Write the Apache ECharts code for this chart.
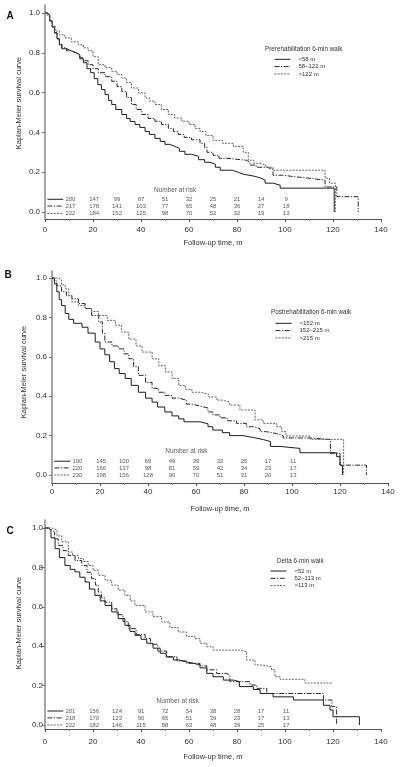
<!DOCTYPE html>
<html><head><meta charset="utf-8">
<script src="https://cdn.jsdelivr.net/npm/echarts@6/dist/echarts.min.js"></script>
<style>html,body{margin:0;padding:0;background:#fff}#c{width:400px;height:767px}</style>
</head><body><div id="c"></div><script>
// ---------- data ----------
const yTickValues = [0, 0.2, 0.4, 0.6, 0.8, 1.0];
const xTickInterval = 20;
const panelLetters = ['A', 'B', 'C'];
const legendTitles = ['Prerehabilitation 6-min walk', 'Postrehabilitation 6-min walk', 'Delta 6-min walk'];
const groupsA = ['<58 m', '58\u2013122 m', '>122 m'];
const groupsB = ['<152 m', '152\u2013215 m', '>215 m'];
const groupsC = ['<52 m', '52\u2013113 m', '>113 m'];
const xTitle = 'Follow-up time, m';
const yTitle = 'Kaplan-Meier survival curve';
const riskTitle = 'Number at risk';

// Kaplan-Meier curves: [time, survival]
const curveA1 = [[0,1],[1,0.99],[2,0.96],[3,0.93],[4,0.9],[5,0.87],[6,0.84],[7,0.82],[9,0.81],[11,0.8],[13,0.79],[14.5,0.77],[16,0.75],[17.5,0.72],[19,0.7],[20.5,0.67],[22,0.64],[23.5,0.615],[25,0.59],[26.5,0.56],[27.8,0.54],[29.5,0.515],[32,0.49],[34,0.47],[35.5,0.455],[37.5,0.44],[39.5,0.425],[41.7,0.405],[43.5,0.39],[45.8,0.37],[48,0.355],[50,0.34],[52,0.33],[54,0.32],[56,0.305],[58.3,0.29],[61,0.28],[64,0.263],[66.5,0.25],[68.75,0.24],[71,0.225],[73,0.21],[78,0.2],[80.5,0.19],[82.6,0.185],[85,0.178],[88,0.17],[90,0.16],[91.7,0.145],[95,0.135],[98,0.12],[120.5,0]];
const curveA2 = [[0,1],[1,0.99],[2,0.96],[3,0.93],[4,0.9],[5,0.87],[6,0.845],[7,0.825],[9,0.81],[11,0.8],[13,0.79],[14.5,0.775],[16,0.76],[18,0.74],[20,0.72],[22.2,0.7],[25,0.68],[27.8,0.657],[30,0.63],[32,0.606],[34,0.575],[36,0.54],[38,0.515],[40.3,0.49],[43,0.47],[45.8,0.456],[48.5,0.44],[51.4,0.42],[53.5,0.405],[55.5,0.39],[58,0.375],[61,0.363],[64.6,0.345],[66.5,0.325],[67.5,0.3],[70,0.285],[72.5,0.27],[75.8,0.26],[84,0.25],[85.4,0.236],[88,0.225],[92.5,0.215],[95,0.185],[99,0.178],[103.5,0.17],[110,0.16],[116.7,0.126],[121.6,0.077],[130.5,0]];
const curveA3 = [[0,1],[1,0.985],[2,0.96],[3,0.935],[4.2,0.91],[6,0.89],[8.3,0.875],[11,0.855],[13.9,0.84],[16,0.825],[18,0.81],[20,0.78],[22.2,0.74],[25,0.725],[27.8,0.707],[30,0.69],[32,0.673],[34,0.65],[36,0.623],[39,0.598],[41.7,0.573],[43.5,0.557],[45.8,0.54],[48.5,0.515],[51.4,0.49],[54,0.472],[57,0.456],[60,0.44],[62.5,0.42],[64.6,0.405],[67,0.385],[70,0.36],[74,0.345],[78.5,0.33],[82.6,0.3],[84.7,0.26],[87,0.245],[89.6,0.236],[92,0.225],[95,0.21],[116.7,0.17],[118.5,0.145],[121,0]];

const curveB1 = [[0,1],[1,0.97],[2,0.93],[3,0.89],[4,0.86],[5.5,0.82],[7,0.79],[9,0.77],[12.5,0.75],[15,0.72],[18,0.675],[20,0.64],[22,0.61],[24,0.575],[26,0.54],[28,0.515],[30.5,0.49],[33,0.455],[36,0.42],[39,0.39],[41.7,0.37],[44,0.345],[47,0.32],[50,0.3],[52.8,0.285],[55,0.27],[61.7,0.26],[65,0.245],[67,0.228],[71,0.215],[74,0.2],[79.6,0.19],[84,0.18],[88,0.17],[91,0.145],[95,0.135],[103.3,0.113],[118.6,0.093],[120,0.05],[121,0]];
const curveB2 = [[0,1],[1,0.985],[2,0.96],[4,0.93],[6,0.91],[8.3,0.895],[11,0.87],[13.8,0.845],[16.5,0.81],[19.5,0.777],[21,0.72],[22,0.675],[25,0.655],[27.8,0.64],[30,0.615],[32,0.59],[34,0.55],[36,0.506],[39,0.47],[41.7,0.44],[44.5,0.42],[47,0.404],[50,0.39],[52.8,0.38],[56,0.36],[58.3,0.35],[61.7,0.34],[65,0.32],[67,0.305],[70,0.29],[73,0.275],[76.9,0.262],[81,0.245],[84,0.235],[86.7,0.22],[89.4,0.21],[93.6,0.2],[96.3,0.188],[107.5,0.18],[116,0.11],[120,0.05],[131,0]];
const curveB3 = [[0,1],[2.8,0.99],[4,0.965],[5.5,0.945],[7,0.91],[8.3,0.878],[11,0.86],[13.9,0.845],[16.5,0.83],[19.4,0.81],[23,0.785],[26.4,0.76],[29,0.725],[32,0.69],[35,0.655],[37.5,0.624],[41.7,0.59],[44.5,0.555],[47.2,0.523],[50,0.49],[52.8,0.455],[55.5,0.435],[58.3,0.42],[61.7,0.41],[65.3,0.396],[68.7,0.38],[71,0.37],[74,0.355],[78.3,0.33],[84.6,0.28],[88,0.262],[93.6,0.245],[95.7,0.22],[97.5,0.198],[107.5,0.181],[121.5,0]];

const curveC1 = [[0,1],[1.4,0.99],[2.5,0.95],[4.2,0.895],[6,0.85],[8.3,0.81],[10.5,0.79],[12.5,0.777],[14.5,0.75],[16.7,0.726],[18.5,0.69],[20.8,0.658],[23,0.63],[25,0.607],[27.8,0.574],[30.5,0.54],[33.3,0.506],[35.4,0.475],[37.5,0.455],[40,0.435],[42.4,0.415],[45,0.39],[48,0.364],[50.5,0.345],[53.5,0.33],[56,0.32],[59,0.313],[62,0.305],[64.6,0.29],[67.4,0.262],[70,0.245],[74.3,0.228],[78.5,0.22],[81,0.195],[86.8,0.18],[89.6,0.16],[95,0.143],[103.5,0.127],[116,0.1],[118.75,0.076],[120,0.042],[131,0]];
const curveC2 = [[0,1],[1.5,0.99],[2.8,0.98],[4,0.945],[5.5,0.912],[7.5,0.885],[9.7,0.86],[12.5,0.835],[15.3,0.81],[17.5,0.775],[19.4,0.743],[21,0.71],[22.2,0.675],[23.5,0.645],[25,0.624],[27.8,0.59],[30,0.56],[32.5,0.525],[34.7,0.489],[38,0.46],[41.7,0.438],[44,0.41],[47,0.375],[50.7,0.347],[55,0.325],[59,0.313],[64.6,0.3],[67.4,0.28],[71.5,0.262],[75.7,0.254],[77,0.22],[85.4,0.203],[88.2,0.186],[92.4,0.16],[116,0.127],[119.5,0.093],[121.5,0]];
const curveC3 = [[0,1],[2.8,0.99],[5,0.96],[7,0.93],[9.7,0.878],[11.5,0.86],[13.9,0.845],[16,0.83],[18,0.81],[20,0.785],[22.2,0.76],[25,0.735],[27.8,0.71],[30.5,0.685],[33.3,0.658],[35.5,0.63],[37.5,0.607],[41.7,0.574],[45,0.55],[48.6,0.523],[52,0.495],[55.5,0.472],[59,0.45],[62.5,0.438],[64.6,0.415],[67.4,0.397],[70,0.38],[81,0.372],[84,0.33],[87.5,0.305],[89.6,0.296],[94.4,0.28],[95.8,0.245],[98,0.232],[108.3,0.213],[120,0.213]];

// Numbers at risk
const riskA = [[200,147,99,67,51,32,25,21,14,9],[217,178,141,103,77,65,48,36,27,18],[222,184,152,125,98,70,52,32,19,13]];
const riskB = [[190,145,100,69,49,39,32,25,17,11],[220,166,137,98,81,59,42,34,23,17],[230,198,156,128,96,70,51,31,20,13]];
const riskC = [[201,156,124,91,72,54,38,28,17,11],[218,170,123,90,65,51,39,23,17,13],[222,182,146,115,88,63,48,39,25,17]];

// ---------- layout / style ----------
const riskCols = [10.6, 20.5, 30, 40, 50, 60, 70, 80, 90, 100.5];
const sampleSpan = [1, 7.6];
const lineTypes = ['solid', [5, 1.5, 1.2, 1.5], [2, 1.2]];
const lineColors = ['#1e1e1e', '#2a2a2a', '#666666'];
const FONT = '"Liberation Sans", Arial, sans-serif';
const TXT = '#333';

const panels = [
  { groups: groupsA, curves: [curveA1, curveA2, curveA3], risk: riskA,
    grid: { left: 45, right: 19, top: 5, height: 214 }, yMin: -0.035, yMax: 1.04,
    rowY: [0.064, 0.03, -0.007], riskTitlePos: [54.2, 0.11],
    xLabelMargin: 7, xNameGap: 20, yLabelMargin: 5,
    letter: [10, 16], legendTitle: [265, 49.3], legendPos: [274, 56.3], yTitlePos: [19, 103] },
  { groups: groupsB, curves: [curveB1, curveB2, curveB3], risk: riskB,
    grid: { left: 52, right: 12, top: 271, height: 212 }, yMin: -0.0406, yMax: 1.0355,
    rowY: [0.07, 0.036, 0.0], riskTitlePos: [56, 0.123],
    xLabelMargin: 5, xNameGap: 22, yLabelMargin: 5,
    letter: [8, 275], legendTitle: [271, 312.3], legendPos: [275, 320.3], yTitlePos: [24, 372] },
  { groups: groupsC, curves: [curveC1, curveC2, curveC3], risk: riskC,
    grid: { left: 45, right: 19, top: 520, height: 209 }, yMin: -0.0203, yMax: 1.0406,
    rowY: [0.071, 0.036, 0.0], riskTitlePos: [55.3, 0.123],
    xLabelMargin: 9, xNameGap: 24, yLabelMargin: 2,
    letter: [10, 531], legendTitle: [277, 561], legendPos: [270, 568], yTitlePos: [19, 623] }
];

const grids = [], xAxes = [], yAxes = [], series = [], legends = [], graphics = [];
panels.forEach((p, i) => {
  grids.push(Object.assign({ containLabel: false }, p.grid));
  xAxes.push({
    type: 'value', gridIndex: i, min: 0, max: 140, interval: xTickInterval,
    name: xTitle, nameLocation: 'middle', nameGap: p.xNameGap,
    nameTextStyle: { fontFamily: FONT, fontSize: 7.5, color: TXT },
    axisLine: { show: true, onZero: false, lineStyle: { color: '#555', width: 1 } },
    axisTick: { show: true, length: 3, lineStyle: { color: '#555' } },
    minorTick: { show: true, splitNumber: 2, length: 2, lineStyle: { color: '#777' } },
    axisLabel: { fontFamily: FONT, fontSize: 8, color: TXT, margin: p.xLabelMargin },
    splitLine: { show: false }
  });
  yAxes.push({
    type: 'value', gridIndex: i, min: p.yMin, max: p.yMax,
    axisLine: { show: true, onZero: false, lineStyle: { color: '#888', width: 1.5 } },
    axisTick: { show: true, length: 3, customValues: yTickValues, lineStyle: { color: '#777' } },
    axisLabel: { fontFamily: FONT, fontSize: 8, color: TXT, margin: p.yLabelMargin,
      customValues: yTickValues, formatter: v => v.toFixed(1) },
    splitLine: { show: false }
  });
  p.curves.forEach((c, j) => {
    series.push({
      name: p.groups[j], type: 'line', xAxisIndex: i, yAxisIndex: i, data: c,
      step: 'end', symbol: 'none', showSymbol: false,
      lineStyle: { color: lineColors[j], width: 1, type: lineTypes[j] },
      itemStyle: { color: lineColors[j] }, z: 3
    });
    // sample line in risk table
    series.push({
      name: 'sample' + i + j, type: 'line', xAxisIndex: i, yAxisIndex: i, silent: true,
      data: [[sampleSpan[0], p.rowY[j]], [sampleSpan[1], p.rowY[j]]], symbol: 'none',
      lineStyle: { color: lineColors[j], width: 1, type: lineTypes[j] }, clip: false
    });
    series.push({
      name: 'risk' + i + j, type: 'scatter', xAxisIndex: i, yAxisIndex: i, silent: true,
      symbolSize: 1, itemStyle: { color: 'rgba(0,0,0,0)' }, clip: false,
      data: riskCols.map((t, k) => [t, p.rowY[j], p.risk[j][k]]),
      label: { show: true, position: 'inside', formatter: d => String(d.value[2]),
        fontFamily: FONT, fontSize: 6, color: TXT }
    });
  });
  series.push({
    name: 'riskTitle' + i, type: 'scatter', xAxisIndex: i, yAxisIndex: i, silent: true,
    symbolSize: 1, itemStyle: { color: 'rgba(0,0,0,0)' },
    data: [[p.riskTitlePos[0], p.riskTitlePos[1]]],
    label: { show: true, position: 'inside', formatter: riskTitle, fontFamily: FONT, fontSize: 6.5, color: TXT }
  });
  legends.push({
    data: p.groups, orient: 'vertical', left: p.legendPos[0], top: p.legendPos[1],
    itemWidth: 16, itemHeight: 6, itemGap: 1.3, padding: 0, selectedMode: false,
    itemStyle: { color: 'rgba(0,0,0,0)', borderWidth: 0, opacity: 0 },
    lineStyle: { width: 1 },
    textStyle: { fontFamily: FONT, fontSize: 6, color: TXT, lineHeight: 6, padding: [0, 0, 0, 3] }
  });
  graphics.push({ type: 'text', x: p.letter[0], y: p.letter[1],
    style: { text: panelLetters[i], font: 'bold 10px ' + FONT, fill: '#111', textAlign: 'center', textVerticalAlign: 'middle' } });
  graphics.push({ type: 'text', x: p.legendTitle[0], y: p.legendTitle[1],
    style: { text: legendTitles[i], font: '6.3px ' + FONT, fill: TXT, textAlign: 'left', textVerticalAlign: 'middle' } });
  graphics.push({ type: 'text', x: p.yTitlePos[0], y: p.yTitlePos[1], rotation: Math.PI / 2,
    style: { text: yTitle, font: '7.5px ' + FONT, fill: TXT, textAlign: 'center', textVerticalAlign: 'middle' } });
});

const chart = echarts.init(document.getElementById('c'), null, { renderer: 'canvas' });
chart.setOption({
  backgroundColor: '#fff', animation: false,
  grid: grids, xAxis: xAxes, yAxis: yAxes, series: series, legend: legends, graphic: graphics
});
</script></body></html>
